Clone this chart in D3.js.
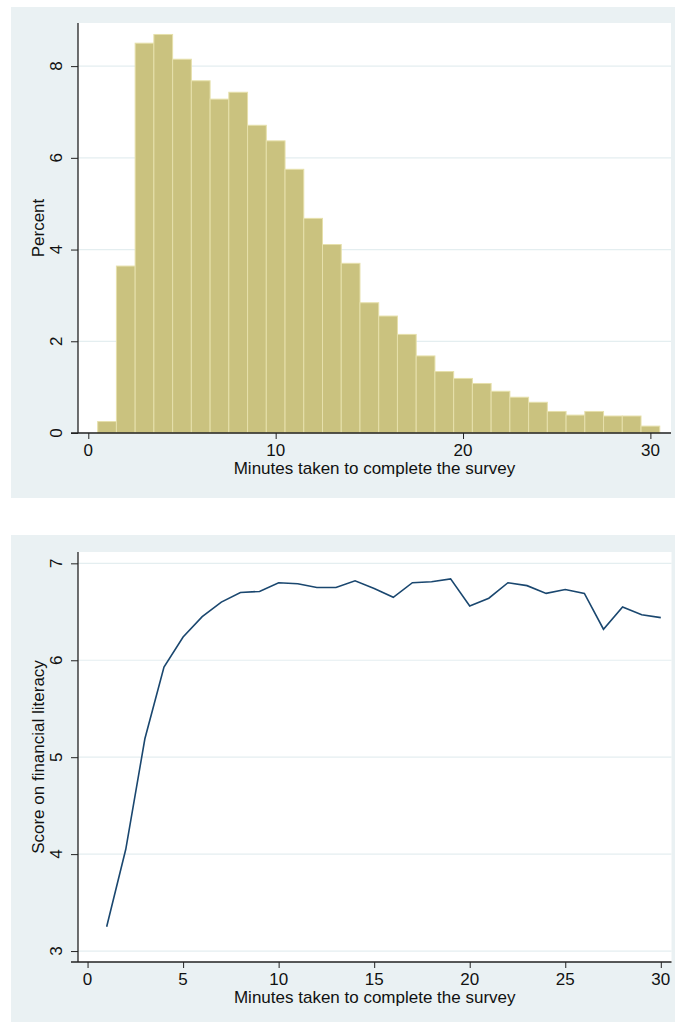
<!DOCTYPE html>
<html>
<head>
<meta charset="utf-8">
<script src="https://cdn.jsdelivr.net/npm/d3@7"></script>
<style>
  html, body { margin: 0; padding: 0; background: #ffffff; }
  svg { display: block; }
  text { font-family: "Liberation Sans", Arial, sans-serif; fill: #111; }
</style>
</head>
<body>
<svg id="chart" width="675" height="1023"></svg>
<script>
// ---- Data ----
const binCenters = d3.range(1, 31); // minutes, bins of width 1
const percentValues = [0.25, 3.64, 8.50, 8.69, 8.15, 7.68, 7.28, 7.43, 6.71, 6.37,
                       5.75, 4.68, 4.11, 3.70, 2.84, 2.55, 2.15, 1.68, 1.34, 1.19,
                       1.08, 0.91, 0.78, 0.67, 0.47, 0.39, 0.47, 0.37, 0.37, 0.15];
const minutes = d3.range(1, 31);
const scoreValues = [3.25, 4.05, 5.19, 5.93, 6.24, 6.45, 6.60, 6.70, 6.71, 6.80,
                     6.79, 6.75, 6.75, 6.82, 6.74, 6.65, 6.80, 6.81, 6.84, 6.56,
                     6.64, 6.80, 6.77, 6.69, 6.73, 6.69, 6.32, 6.55, 6.47, 6.44];
const histXTicks = [0, 10, 20, 30];
const histYTicks = [0, 2, 4, 6, 8];
const lineXTicks = [0, 5, 10, 15, 20, 25, 30];
const lineYTicks = [3, 4, 5, 6, 7];
const xTitle = "Minutes taken to complete the survey";
const histYTitle = "Percent";
const lineYTitle = "Score on financial literacy";

const svg = d3.select("#chart");
const GRAY = "#eaf1f3";
const GRID = "#e4eef0";
const AXIS = "#222";

function panel(cfg) {
  const g = svg.append("g");
  g.append("rect").attr("x", cfg.outer[0]).attr("y", cfg.outer[1])
    .attr("width", cfg.outer[2] - cfg.outer[0]).attr("height", cfg.outer[3] - cfg.outer[1])
    .attr("fill", GRAY);
  g.append("rect").attr("x", cfg.left).attr("y", cfg.top)
    .attr("width", cfg.right - cfg.left).attr("height", cfg.bottom - cfg.top)
    .attr("fill", "#ffffff");
  const x = d3.scaleLinear().domain(cfg.xDomain).range([cfg.left, cfg.right]);
  const y = d3.scaleLinear().domain(cfg.yDomain).range([cfg.bottom, cfg.top]);
  g.append("g").selectAll("line").data(cfg.yTicks).join("line")
    .attr("x1", cfg.left).attr("x2", cfg.right)
    .attr("y1", d => y(d)).attr("y2", d => y(d))
    .attr("stroke", GRID).attr("stroke-width", 1.2);
  return { g, x, y };
}

function axes(p, cfg) {
  const { g, x, y } = p;
  const ya = g.append("g").attr("transform", `translate(${cfg.left},0)`)
    .call(d3.axisLeft(y).tickValues(cfg.yTicks).tickSize(7).tickFormat(() => ""));
  ya.select(".domain").attr("stroke", AXIS).attr("stroke-width", 1.3)
    .attr("d", `M0,${cfg.top}V${cfg.bottom}`);
  ya.selectAll(".tick line").attr("stroke", AXIS).attr("stroke-width", 1);
  g.append("g").selectAll("text").data(cfg.yTicks).join("text")
    .attr("transform", d => `translate(62,${y(d)}) rotate(-90)`)
    .attr("text-anchor", "middle").attr("font-size", 17).text(d => d);
  const xa = g.append("g").attr("transform", `translate(0,${cfg.bottom})`)
    .call(d3.axisBottom(x).tickValues(cfg.xTicks).tickSize(6).tickFormat(() => ""));
  xa.select(".domain").attr("stroke", AXIS).attr("stroke-width", 1.3)
    .attr("d", `M${cfg.left - 7},0H${cfg.right}`);
  xa.selectAll(".tick line").attr("stroke", AXIS).attr("stroke-width", 1);
  g.append("g").selectAll("text").data(cfg.xTicks).join("text")
    .attr("x", d => x(d)).attr("y", cfg.bottom + 23)
    .attr("text-anchor", "middle").attr("font-size", 17).text(d => d);
  g.append("text").attr("x", (cfg.left + cfg.right) / 2).attr("y", cfg.bottom + 41)
    .attr("text-anchor", "middle").attr("font-size", 17).text(xTitle);
  g.append("text")
    .attr("transform", `translate(44,${(cfg.top + cfg.bottom) / 2}) rotate(-90)`)
    .attr("text-anchor", "middle").attr("font-size", 17).text(cfg.yTitle);
}

// ---- Histogram ----
const hCfg = {
  outer: [11, 7, 675, 498], left: 78, right: 671, top: 23, bottom: 433,
  xDomain: [-0.55, 31.1], yDomain: [0, 8.94],
  xTicks: histXTicks, yTicks: histYTicks, yTitle: histYTitle
};
const hp = panel(hCfg);
hp.g.append("g").selectAll("rect").data(binCenters).join("rect")
  .attr("x", (d) => hp.x(d - 0.5))
  .attr("width", d => hp.x(d + 0.5) - hp.x(d - 0.5))
  .attr("y", (d, i) => hp.y(percentValues[i]))
  .attr("height", (d, i) => hp.y(0) - hp.y(percentValues[i]))
  .attr("fill", "#cac27f").attr("stroke", "#e6e0ab").attr("stroke-width", 1);
axes(hp, hCfg);

// ---- Line chart ----
const lCfg = {
  outer: [11, 535, 675, 1022], left: 78, right: 671.5, top: 552, bottom: 962,
  xDomain: [-0.5, 30.56], yDomain: [2.887, 7.117],
  xTicks: lineXTicks, yTicks: lineYTicks, yTitle: lineYTitle
};
const lp = panel(lCfg);
const line = d3.line().x((d, i) => lp.x(minutes[i])).y((d) => lp.y(d));
lp.g.append("path").datum(scoreValues).attr("d", line)
  .attr("fill", "none").attr("stroke", "#1a476f").attr("stroke-width", 1.6)
  .attr("stroke-linejoin", "miter");
axes(lp, lCfg);
</script>
</body>
</html>
